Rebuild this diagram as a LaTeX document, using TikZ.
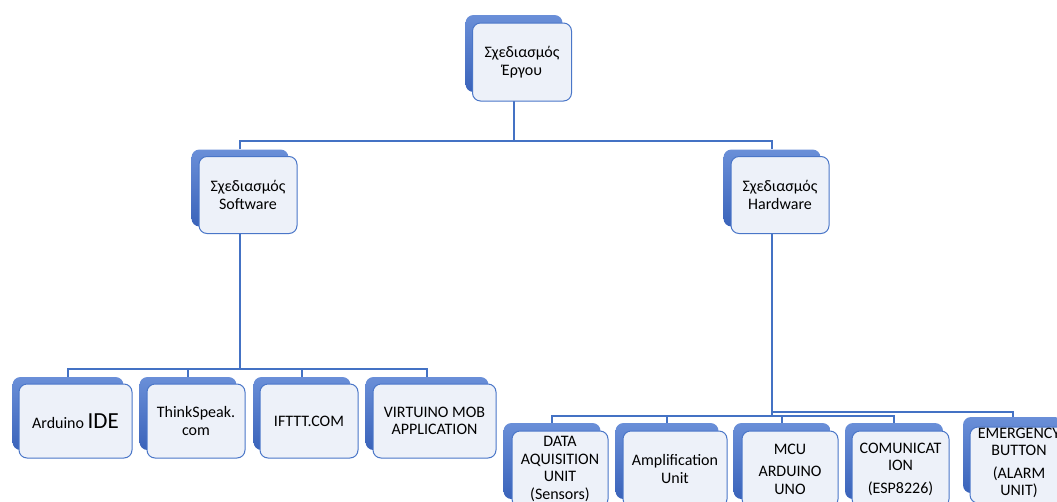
\documentclass[tikz,border=0pt]{standalone}
\usepackage{fontspec}
\setmainfont{Carlito}
\usetikzlibrary{backgrounds}
\definecolor{lineblue}{HTML}{4472C4}
\definecolor{backtop}{HTML}{6A8FD8}
\definecolor{backbot}{HTML}{3A63BA}
\definecolor{frontfill}{HTML}{EDF1F9}
\definecolor{frontline}{HTML}{4A76C8}
\tikzset{
  backbox/.style={rounded corners=8pt, top color=backtop, bottom color=backbot, draw=none, inner sep=0pt},
  boxtext/.style={align=center, font=\fontsize{16}{17.5}\selectfont},
  frontbox/.style={boxtext, rounded corners=8pt, fill=frontfill, draw=frontline, line width=1pt, inner sep=0pt},
  conn/.style={draw=lineblue, line width=1.3pt}
}
\begin{document}
\begin{tikzpicture}[x=1pt,y=-1pt]
\useasboundingbox (0,0) rectangle (1057,501);
\clip (0,0) rectangle (1057,501);
% top
\node[backbox, minimum width=97pt, minimum height=77pt] (topb) at (514,53.5) {};
\node[frontbox, minimum width=99pt, minimum height=78pt] (top) at (522,62) {Σχεδιασμός\\Έργου};
% level 2
\node[backbox, minimum width=97pt, minimum height=77pt] (swb) at (240,188) {};
\node[frontbox, minimum width=98pt, minimum height=77pt] (sw) at (248,195) {Σχεδιασμός\\Software};
\node[backbox, minimum width=97pt, minimum height=77pt] (hwb) at (772,188) {};
\node[frontbox, minimum width=98pt, minimum height=77pt] (hw) at (780,195) {Σχεδιασμός\\Hardware};
% software row
\node[backbox, minimum width=111pt, minimum height=73pt] (s1b) at (68,413.5) {};
\node[frontbox, minimum width=113pt, minimum height=74pt] (s1) at (75.5,421) {Arduino {\fontsize{23}{24}\selectfont IDE}};
\node[backbox, minimum width=97pt, minimum height=73pt] (s2b) at (188,413.5) {};
\node[frontbox, minimum width=98pt, minimum height=74pt] (s2) at (196,421) {ThinkSpeak.\\com};
\node[backbox, minimum width=97pt, minimum height=73pt] (s3b) at (302,413.5) {};
\node[frontbox, minimum width=98pt, minimum height=74pt] (s3) at (309,421) {IFTTT.COM};
\node[backbox, minimum width=123pt, minimum height=73pt] (s4b) at (427,413.5) {};
\node[frontbox, minimum width=123pt, minimum height=74pt] (s4) at (434.5,421) {VIRTUINO MOB\\APPLICATION};
% hardware row
\node[backbox, minimum width=97pt, minimum height=76pt] (h1b) at (552,461) {};
\node[frontbox, minimum width=96pt, minimum height=76pt] (h1) at (560,469) {DATA\\AQUISITION\\UNIT\\(Sensors)};
\node[backbox, minimum width=103pt, minimum height=76pt] (h2b) at (667,461) {};
\node[frontbox, minimum width=104pt, minimum height=76pt] (h2) at (675,469) {Amplification\\Unit};
\node[backbox, minimum width=97pt, minimum height=76pt] (h3b) at (782,461) {};
\node[frontbox, minimum width=96pt, minimum height=76pt] (h3) at (790,469) {MCU\\[5pt]ARDUINO\\UNO};
\node[backbox, minimum width=98pt, minimum height=76pt] (h4b) at (894,461) {};
\node[frontbox, minimum width=97pt, minimum height=76pt] (h4) at (900.5,469) {COMUNICAT\\ION\\[5pt](ESP8226)};
\node[backbox, minimum width=100pt, minimum height=76pt] (h5b) at (1013,455) {};
\node[frontbox, minimum width=102pt, minimum height=76pt] (h5) at (1021,465) {};
\node[boxtext, inner sep=0pt] (h5t) at (1019,463) {EMERGENCY\\BUTTON\\[5pt](ALARM\\UNIT)};
% connectors
\begin{pgfonlayer}{background}
\coordinate (j1) at (514,141);
\draw[conn] (topb) -- (topb |- j1) -| (swb);
\draw[conn] (topb |- j1) -| (hwb);
\coordinate (j2) at (240,369);
\draw[conn] (swb) -- (swb |- j2) -| (s1b);
\draw[conn] (swb |- j2) -| (s2b);
\draw[conn] (swb |- j2) -| (s3b);
\draw[conn] (swb |- j2) -| (s4b);
\coordinate (j3) at (772,416);
\draw[conn] (hwb) -- (hwb |- j3) -| (h1b);
\draw[conn] (hwb |- j3) -| (h2b);
\draw[conn] (hwb |- j3) -| (h3b);
\draw[conn] (hwb |- j3) -| (h4b);
\coordinate (j4) at (772,412);
\draw[conn] (hwb |- j4) -| (h5b);
\end{pgfonlayer}
\end{tikzpicture}
\end{document}
